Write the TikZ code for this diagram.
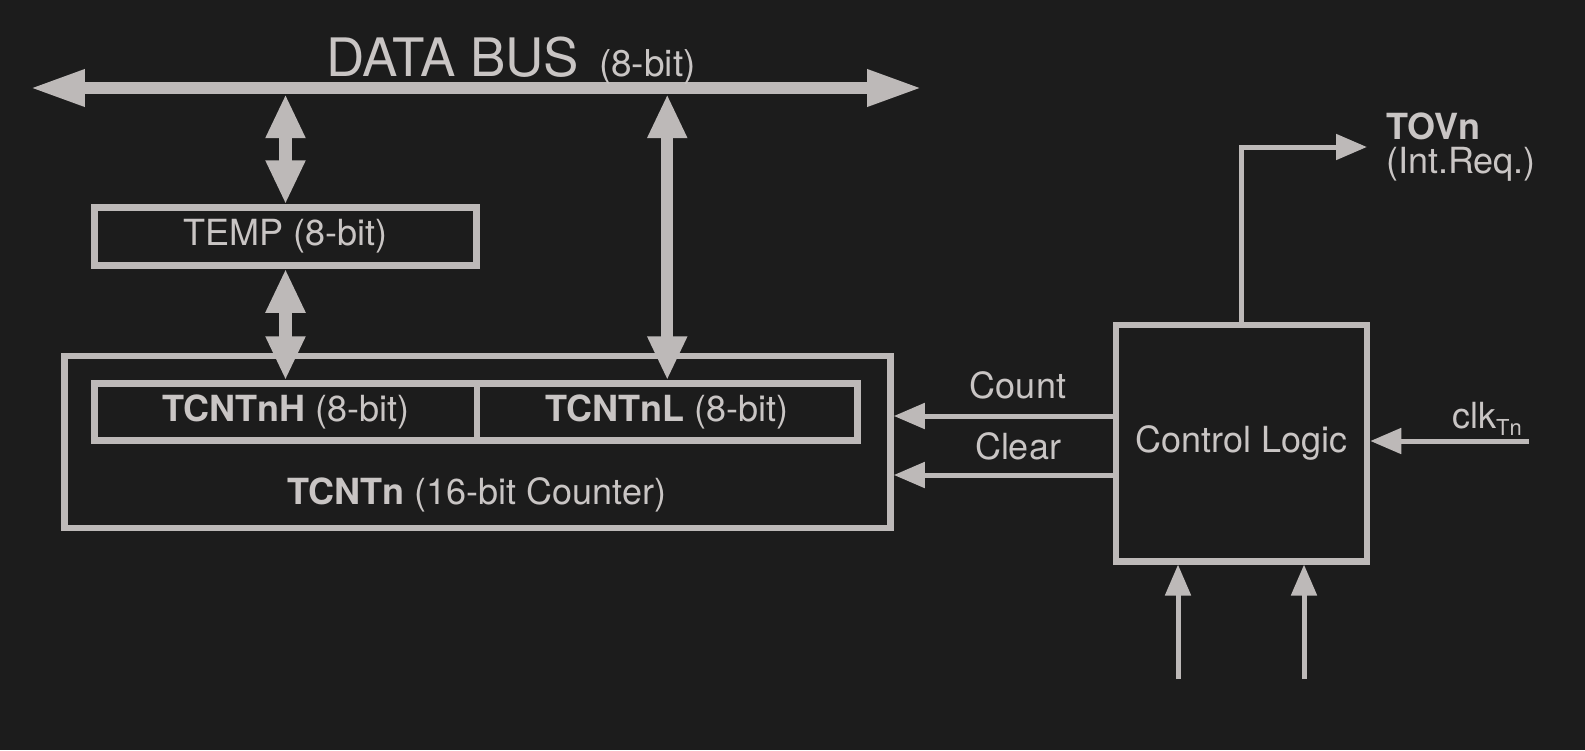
\documentclass[tikz,border=0pt]{standalone}
\usepackage{fontspec}
\setmainfont{TeX Gyre Heros}
\usetikzlibrary{arrows.meta}
\definecolor{bgc}{HTML}{1C1C1C}
\definecolor{linec}{HTML}{BDB9B8}
\definecolor{textc}{HTML}{C9C5C4}

\begin{document}
\begin{tikzpicture}[x=1pt,y=-1pt,
  every node/.style={text=textc,inner sep=0pt,font=\fontsize{36}{41}\selectfont},
  reg/.style={draw=linec,line width=6.5pt},
  bigarrow/.style={draw=linec,line width=13pt,
    {Triangle[length=44pt,width=37pt]}-{Triangle[length=44pt,width=37pt]}},
  sig/.style={draw=linec,line width=5pt,-{Triangle[length=31pt,width=25pt]}}]
% background
\fill[bgc] (0,0) rectangle (1585,750);
% data bus
\node[minimum width=892pt,minimum height=12pt] (bus) at (476,88) {};
\draw[linec,line width=12pt,{Triangle[length=55pt,width=34pt]}-{Triangle[length=55pt,width=34pt]}] (bus.west) -- (bus.east);
\node[anchor=base west] (buslabel) at (326,76) {{\fontsize{53}{58}\selectfont DATA BUS}\hspace{20pt}{\fontsize{37}{42}\selectfont(8-bit)}};
% registers
\node[reg,minimum width=382pt,minimum height=58pt] (temp) at (285.5,236.5) {TEMP (8-bit)};
\node[reg,minimum width=826pt,minimum height=172pt] (tcnt) at (477.5,442) {};
\node[reg,minimum width=382.5pt,minimum height=57pt] (tcnth) at (285.75,412) {\textbf{TCNTnH} (8-bit)};
\node[reg,minimum width=380.5pt,minimum height=57pt] (tcntl) at (667.25,412) {\textbf{TCNTnL} (8-bit)};
\node (tcntlabel) at (477,495) {\textbf{TCNTn} (16-bit Counter)};
% control logic
\node[reg,minimum width=251pt,minimum height=236.5pt] (ctrl) at (1241.5,443) {Control Logic};
\node (count) at (1018,385) {Count};
\node (clear) at (1018,446) {Clear};
\node[anchor=west] (tovn) at (1386,126) {\textbf{TOVn}};
\node[anchor=west] (intreq) at (1386,164) {(Int.Req.)};
\node (clk) at (1487,419) {clk\raisebox{-7pt}{\fontsize{22}{22}\selectfont Tn}};
\coordinate (tovend) at (1367,147);
\coordinate (clkin) at (1529,441);
\coordinate (inA) at (1178,679);
\coordinate (inB) at (1304,679);
% bus connections
\draw[bigarrow] (temp.north) -- (temp.north |- bus.south);
\draw[bigarrow] (temp.south) -- (temp.south |- tcnth.north);
\draw[bigarrow,line width=12pt] (tcntl.north) -- (tcntl.north |- bus.south);
% control signals
\draw[sig] ([yshift=27pt]ctrl.west) -- ([yshift=27pt]ctrl.west -| tcnt.east);
\draw[sig] ([yshift=-32pt]ctrl.west) -- ([yshift=-32pt]ctrl.west -| tcnt.east);
\draw[sig] (ctrl.north) |- (tovend);
\draw[sig] (clkin) -- (clkin -| ctrl.east);
\draw[sig] (inA) -- (inA |- ctrl.south);
\draw[sig] (inB) -- (inB |- ctrl.south);
\end{tikzpicture}
\end{document}
